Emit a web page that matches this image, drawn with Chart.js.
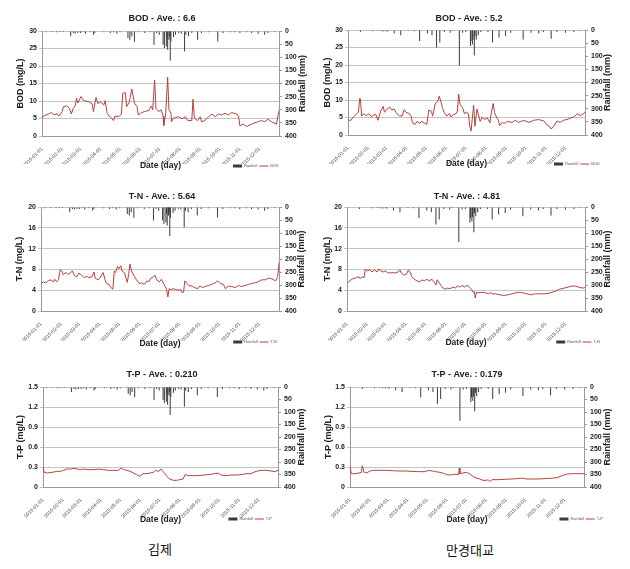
<!DOCTYPE html>
<html>
<head>
<meta charset="utf-8">
<script src="https://cdn.jsdelivr.net/npm/chart.js@4.4.0/dist/chart.umd.min.js"></script>
<style>
  body { margin: 0; background: #fff; }
  #wrap { position: relative; width: 630px; height: 569px; overflow: hidden; }
  #wrap canvas { position: absolute; }
  .site { position: absolute; font-family: "Noto Sans CJK KR", sans-serif; font-size: 13px; color: #111; transform: translateX(-50%); }
</style>
</head>
<body>
<div id="wrap">
  <canvas id="c1" width="315" height="180" style="left:0;top:0"></canvas>
  <canvas id="c2" width="315" height="180" style="left:315px;top:0"></canvas>
  <canvas id="c3" width="315" height="180" style="left:0;top:177px"></canvas>
  <canvas id="c4" width="315" height="180" style="left:315px;top:177px"></canvas>
  <canvas id="c5" width="315" height="180" style="left:0;top:356px"></canvas>
  <canvas id="c6" width="315" height="180" style="left:315px;top:356px"></canvas>
  <div class="site" style="left:160px;top:539px">김제</div>
  <div class="site" style="left:470px;top:540px">만경대교</div>
</div>
<script>
// x axis: day of year 2015 (0 = Jan 1)
const monthStarts = [0, 31, 59, 90, 120, 151, 181, 212, 243, 273, 304, 334];
const monthLabels = ['2015-01-01', '2015-02-01', '2015-03-01', '2015-04-01', '2015-05-01', '2015-06-01',
  '2015-07-01', '2015-08-01', '2015-09-01', '2015-10-01', '2015-11-01', '2015-12-01'];

// rainfall (mm), 김제 column
const rainGimjeDay = [6, 15, 23, 28, 33, 44, 48, 51, 55, 59, 63, 67, 74, 79, 81, 95, 105, 110, 115, 120,
  132, 135, 138, 142, 148, 158, 166, 172, 176, 180, 186, 188, 191, 192, 193, 195, 196, 197, 198, 202,
  205, 210, 214, 219, 221, 225, 230, 239, 245, 256, 270, 278, 289, 296, 304, 314, 322, 332, 342, 347, 358];
const rainGimjeMm = [5, 4, 5, 4, 4, 20, 8, 10, 8, 8, 5, 10, 5, 14, 8, 5, 8, 5, 10, 5,
  27, 33, 20, 41, 5, 8, 5, 52, 8, 14, 52, 65, 59, 27, 71, 33, 20, 112, 40, 23,
  14, 8, 10, 78, 14, 20, 8, 33, 8, 5, 40, 8, 5, 5, 8, 5, 8, 10, 14, 8, 5];

// rainfall (mm), 만경대교 column
const rainMgDay = [19, 38, 46, 51, 55, 59, 61, 71, 81, 93, 102, 110, 122, 129, 136, 141, 148, 157, 161, 171,
  176, 181, 188, 189, 191, 192, 194, 195, 197, 200, 204, 215, 222, 232, 242, 250, 269, 281, 293, 300,
  312, 321, 334, 347, 357];
const rainMgMm = [8, 5, 4, 5, 6, 5, 6, 13, 20, 4, 5, 42, 13, 20, 67, 48, 8, 10, 4, 135,
  10, 8, 61, 42, 55, 38, 97, 23, 36, 20, 8, 8, 48, 29, 23, 10, 36, 10, 13, 8,
  33, 8, 10, 8, 4];

// BOD (mg/L)
const bodGimjeDay = [0, 2, 10, 15, 18, 23, 26, 31, 33, 38, 42, 45, 48, 51, 53, 55, 60, 64, 72, 77,
  79, 83, 86, 89, 95, 97, 100, 103, 106, 110, 112, 118, 122, 124, 128, 130, 134, 138, 142, 146,
  148, 153, 158, 164, 168, 170, 173, 175, 179, 183, 186, 187, 190, 193, 195, 198, 199, 202, 205, 210,
  215, 220, 224, 230, 232, 234, 239, 243, 245, 250, 256, 261, 266, 271, 276, 281, 286, 291, 299, 302,
  304, 309, 314, 322, 327, 332, 337, 342, 347, 352, 360, 364];
const bodGimjeVal = [5.1, 5.7, 6.3, 6.7, 6.1, 6.3, 5.7, 7.0, 8.4, 8.6, 7.9, 6.3, 7.9, 8.6, 10.8, 9.4, 11.3, 10.1, 9.8, 9.2,
  7.0, 11.0, 9.2, 9.8, 8.9, 10.1, 6.5, 5.7, 5.3, 4.4, 5.7, 5.5, 6.3, 12.2, 12.4, 8.4, 9.6, 13.4, 9.4, 8.4,
  6.0, 6.7, 7.0, 7.3, 8.6, 7.5, 16.0, 7.9, 7.0, 7.5, 5.7, 3.0, 6.5, 16.8, 7.5, 6.5, 4.1, 5.1, 5.3, 5.5,
  4.9, 5.5, 4.4, 4.4, 10.5, 5.1, 4.4, 5.5, 4.1, 4.4, 5.5, 6.3, 5.5, 6.3, 6.0, 6.5, 6.0, 6.7, 6.3, 5.5,
  2.9, 3.4, 2.7, 3.4, 3.8, 4.1, 4.4, 4.1, 4.8, 4.1, 3.4, 7.3];
const bodMgDay = [0, 4, 8, 13, 16, 18, 19, 21, 24, 28, 32, 36, 40, 43, 46, 50, 54, 56, 60, 64,
  67, 71, 75, 79, 83, 86, 89, 94, 97, 99, 103, 106, 110, 113, 117, 121, 124, 128, 130, 134,
  138, 140, 143, 145, 148, 152, 156, 158, 162, 166, 168, 170, 172, 176, 179, 182, 185, 187, 189, 191,
  193, 195, 198, 200, 203, 206, 210, 214, 218, 220, 223, 225, 228, 231, 233, 237, 240, 245, 252, 257,
  262, 270, 278, 285, 293, 301, 305, 309, 312, 316, 321, 326, 331, 339, 347, 352, 357, 361, 364];
const bodMgVal = [4.4, 4.1, 5.1, 6.0, 6.5, 10.5, 10.3, 5.4, 6.1, 5.5, 6.1, 5.2, 5.8, 5.8, 4.2, 6.7, 8.2, 6.5, 7.4, 8.0,
  7.2, 7.4, 6.1, 5.5, 5.4, 7.2, 6.5, 6.1, 5.4, 3.5, 3.0, 3.9, 3.3, 3.9, 3.5, 3.0, 7.1, 6.8, 5.4, 9.0,
  9.6, 11.1, 9.4, 7.8, 6.3, 5.4, 6.1, 5.2, 5.8, 6.1, 6.8, 11.7, 8.8, 7.8, 6.0, 6.6, 6.0, 2.5, 1.1, 4.9,
  8.5, 2.5, 7.4, 6.1, 3.9, 5.1, 4.4, 4.9, 3.5, 6.3, 9.0, 6.5, 5.1, 4.2, 2.7, 3.6, 3.3, 3.9, 3.6, 4.2,
  3.6, 4.2, 3.6, 4.2, 4.4, 4.0, 3.0, 2.5, 1.7, 2.5, 4.0, 3.6, 4.2, 4.6, 5.2, 6.1, 5.5, 6.0, 6.5];

// T-N (mg/L)
const tnGimjeDay = [0, 4, 7, 11, 15, 19, 21, 24, 27, 29, 32, 34, 38, 42, 46, 48, 51, 55, 58, 62,
  66, 70, 73, 78, 81, 83, 87, 90, 93, 95, 98, 100, 104, 107, 110, 112, 114, 117, 119, 122,
  124, 128, 130, 132, 134, 136, 139, 143, 146, 150, 154, 158, 162, 165, 168, 172, 174, 177, 181, 184,
  187, 190, 192, 194, 196, 199, 202, 206, 210, 214, 216, 218, 220, 223, 226, 231, 235, 240, 243, 247,
  251, 256, 261, 266, 270, 274, 279, 282, 287, 292, 297, 302, 307, 312, 317, 322, 327, 332, 338, 343,
  348, 353, 359, 362, 364];
const tnGimjeVal = [5.3, 5.6, 5.4, 5.8, 6.0, 5.6, 6.1, 5.6, 6.1, 7.9, 7.7, 7.0, 7.4, 7.0, 7.5, 7.7, 6.8, 6.6, 7.3, 6.9,
  6.4, 6.7, 6.4, 6.6, 7.5, 6.3, 6.0, 6.3, 7.0, 7.4, 6.0, 5.3, 5.1, 4.5, 4.2, 7.7, 7.4, 8.6, 8.1, 8.7,
  7.7, 7.3, 6.3, 5.5, 7.0, 9.0, 7.5, 6.6, 6.0, 5.3, 5.4, 5.1, 5.8, 5.6, 6.3, 6.6, 6.9, 6.0, 5.6, 6.1,
  5.4, 4.7, 4.2, 2.7, 4.3, 4.1, 4.3, 4.1, 4.0, 4.1, 3.5, 3.6, 5.8, 5.3, 4.9, 4.8, 4.5, 4.3, 4.8, 4.5,
  4.7, 4.9, 5.1, 5.4, 5.8, 5.3, 5.1, 4.3, 4.8, 4.7, 4.5, 4.9, 4.7, 4.9, 5.1, 5.3, 5.4, 5.6, 6.0, 6.0,
  6.3, 6.2, 5.8, 6.6, 9.3];
const tnMgDay = [0, 4, 9, 14, 18, 20, 23, 26, 28, 32, 35, 38, 42, 46, 49, 52, 55, 59, 62, 66,
  70, 74, 78, 81, 83, 87, 91, 94, 97, 99, 103, 107, 111, 115, 118, 122, 126, 130, 133, 136,
  138, 141, 144, 147, 150, 154, 158, 162, 166, 169, 172, 176, 180, 184, 187, 190, 193, 195, 196, 198,
  201, 207, 212, 217, 219, 222, 227, 234, 240, 246, 252, 258, 264, 269, 275, 282, 288, 296, 303, 311,
  319, 325, 332, 338, 344, 349, 354, 360, 364];
const tnMgVal = [5.3, 5.8, 6.2, 6.4, 6.6, 6.2, 6.6, 6.4, 8.0, 7.7, 8.0, 7.5, 7.9, 7.5, 8.1, 7.7, 7.5, 7.7, 7.4, 7.3,
  7.4, 7.3, 7.5, 7.9, 7.3, 6.9, 7.1, 7.9, 7.3, 6.6, 6.1, 5.8, 5.6, 6.0, 5.8, 6.1, 5.8, 6.1, 5.6, 5.0,
  6.0, 5.4, 4.9, 4.4, 4.2, 4.4, 4.3, 4.6, 4.4, 4.9, 4.6, 4.9, 4.6, 5.0, 4.6, 4.2, 3.6, 3.7, 2.5, 3.6,
  3.5, 3.6, 3.5, 3.3, 3.6, 3.3, 3.3, 3.1, 3.0, 3.1, 3.3, 3.5, 3.6, 3.5, 3.3, 3.1, 3.3, 3.3, 3.3, 3.5,
  3.8, 4.2, 4.4, 4.6, 4.8, 4.8, 4.6, 4.4, 4.5];

// T-P (mg/L)
const tpGimjeDay = [0, 2, 7, 14, 22, 27, 32, 37, 43, 48, 53, 58, 63, 71, 78, 86, 94, 102, 109, 117,
  121, 125, 130, 135, 140, 145, 150, 155, 161, 166, 171, 174, 179, 183, 186, 191, 196, 202, 207, 212,
  217, 220, 225, 232, 240, 248, 256, 263, 271, 276, 284, 291, 299, 307, 315, 322, 330, 338, 345, 353,
  359, 364];
const tpGimjeVal = [0.30, 0.22, 0.21, 0.22, 0.235, 0.235, 0.25, 0.27, 0.27, 0.28, 0.27, 0.26, 0.27, 0.26, 0.26, 0.27, 0.26, 0.25, 0.25, 0.25,
  0.285, 0.26, 0.25, 0.235, 0.21, 0.185, 0.16, 0.20, 0.20, 0.21, 0.22, 0.25, 0.235, 0.27, 0.235, 0.17, 0.12, 0.10, 0.10, 0.11,
  0.12, 0.185, 0.17, 0.17, 0.17, 0.18, 0.185, 0.195, 0.21, 0.18, 0.17, 0.18, 0.18, 0.185, 0.20, 0.20, 0.235, 0.25, 0.25, 0.24,
  0.23, 0.25];
const tpMgDay = [0, 2, 7, 14, 18, 19, 22, 26, 30, 35, 45, 55, 66, 76, 86, 96, 107, 117, 122, 128,
  133, 140, 147, 153, 158, 164, 169, 170, 171, 176, 181, 186, 191, 196, 202, 207, 212, 215, 218, 221,
  230, 240, 250, 261, 268, 274, 281, 291, 302, 312, 322, 330, 338, 345, 353, 364];
const tpMgVal = [0.32, 0.20, 0.20, 0.21, 0.22, 0.32, 0.22, 0.21, 0.235, 0.25, 0.25, 0.25, 0.245, 0.24, 0.24, 0.235, 0.23, 0.23, 0.25, 0.24,
  0.23, 0.22, 0.20, 0.18, 0.185, 0.19, 0.19, 0.285, 0.20, 0.21, 0.22, 0.20, 0.16, 0.135, 0.12, 0.10, 0.10, 0.11, 0.08, 0.11,
  0.11, 0.115, 0.12, 0.125, 0.135, 0.12, 0.12, 0.12, 0.125, 0.13, 0.14, 0.17, 0.195, 0.20, 0.20, 0.20];

const FONT = "'Liberation Sans', Arial, sans-serif";
const LEGEND_H = 16;
Chart.defaults.font.family = FONT;

// nudges the title / legend into place and draws the right axis title (reads bottom-up)
const panelTweaks = {
  id: 'panelTweaks',
  afterLayout(chart, args, o) {
    const t = chart.titleBlock;
    const dx = o.titleX - (t.left + t.right) / 2;
    t.left += dx; t.right += dx;
    const lg = chart.legend;
    const dy = o.legendY - (lg.top + 4);
    lg.top += dy; lg.bottom += dy;
    const lx = o.legendRight - lg.right;
    lg.left += lx; lg.right += lx;
  },
  afterDraw(chart, args, o) {
    const ctx = chart.ctx;
    const a = chart.chartArea;
    ctx.save();
    ctx.translate(o.rTitleX, (a.top + a.bottom) / 2);
    ctx.rotate(-Math.PI / 2);
    ctx.font = 'bold 9px ' + FONT;
    ctx.fillStyle = '#222';
    ctx.textAlign = 'center';
    ctx.textBaseline = 'middle';
    ctx.fillText('Rainfall (mm)', 0, 0);
    ctx.restore();
  }
};

function makePanel(id, lay, title, name, yMax, yStep, days, vals, rainDays, rainMm) {
  const H = 180, W = 315;
  return new Chart(document.getElementById(id), {
    data: {
      datasets: [
        { type: 'bar', label: 'Rainfall', yAxisID: 'y2', order: 1,
          data: rainDays.map((d, i) => ({ x: d, y: rainMm[i] })),
          backgroundColor: '#3a3a3a', barThickness: 1, inflateAmount: 0, pointStyle: 'rect' },
        { type: 'line', label: name, yAxisID: 'y', order: 0,
          data: days.map((d, i) => ({ x: d, y: vals[i] })),
          borderColor: '#b8403c', borderWidth: 1, pointRadius: 0, pointStyle: 'line' }
      ]
    },
    options: {
      responsive: false,
      animation: false,
      layout: { padding: 0 },
      plugins: {
        title: { display: true, text: title, color: '#222',
          font: { size: 9, weight: 'bold' },
          padding: { top: lay.titleY - 5.4, bottom: lay.top - lay.titleY - 5.4 } },
        legend: { position: 'bottom', align: 'end',
          labels: { usePointStyle: true, pointStyleWidth: 9, boxHeight: 3, padding: 2,
            font: { size: 4 }, color: '#555',
            sort: (a, b) => a.datasetIndex - b.datasetIndex } },
        tooltip: { enabled: false },
        panelTweaks: lay
      },
      scales: {
        x: {
          type: 'linear', min: 0, max: 364, offset: false,
          afterBuildTicks: s => { s.ticks = monthStarts.map(v => ({ value: v })); },
          ticks: { autoSkip: false, minRotation: 45, maxRotation: 45, padding: 2,
            font: { size: 5 }, color: '#444', callback: (v, i) => monthLabels[i] },
          grid: { display: false, offset: false },
          border: { color: '#999' },
          title: { display: true, text: 'Date (day)', color: '#222',
            font: { size: 8.5, weight: 'bold' },
            padding: { top: 0, bottom: H - LEGEND_H - lay.xTitleY - 5.1 } },
          afterFit: s => { s.height = s.chart.height - s.chart.legend.height - lay.bottom; }
        },
        y: {
          position: 'left', min: 0, max: yMax,
          ticks: { stepSize: yStep, autoSkip: false, padding: 2, color: '#222', font: { size: 7, weight: 'bold' } },
          grid: { color: '#c4c4c4', tickLength: 3 },
          border: { color: '#999' },
          title: { display: true, text: name + ' (mg/L)', color: '#222',
            font: { size: 9, weight: 'bold' }, padding: { top: lay.yTitleX - 5.4, bottom: 0 } },
          afterFit: s => { s.width = lay.left; }
        },
        y2: {
          position: 'right', reverse: true, min: 0, max: 400,
          ticks: { stepSize: 50, autoSkip: false, padding: 3, color: '#222', font: { size: 7, weight: 'bold' } },
          grid: { drawOnChartArea: false, tickLength: 3, color: '#999' },
          border: { color: '#999' },
          afterFit: s => { s.width = W - lay.right; }
        }
      }
    },
    plugins: [panelTweaks]
  });
}

// plot-area placement inside each 315x180 canvas
const layouts = {
  c1: { left: 42, right: 279, top: 31, bottom: 136, titleX: 162, titleY: 19, yTitleX: 21, rTitleX: 303, xTitleY: 166, legendY: 166, legendRight: 281 },
  c2: { left: 33, right: 270, top: 30, bottom: 135, titleX: 154, titleY: 19, yTitleX: 13, rTitleX: 293, xTitleY: 164, legendY: 164, legendRight: 287 },
  c3: { left: 41, right: 279, top: 30, bottom: 134, titleX: 162, titleY: 20, yTitleX: 20, rTitleX: 302, xTitleY: 167, legendY: 165, legendRight: 279 },
  c4: { left: 32, right: 270, top: 30, bottom: 134, titleX: 152, titleY: 20, yTitleX: 13, rTitleX: 293, xTitleY: 166, legendY: 165, legendRight: 287 },
  c5: { left: 43, right: 278, top: 31, bottom: 131, titleX: 162, titleY: 19, yTitleX: 21, rTitleX: 302, xTitleY: 164, legendY: 163, legendRight: 274 },
  c6: { left: 35, right: 269, top: 31, bottom: 131, titleX: 152, titleY: 19, yTitleX: 14, rTitleX: 293, xTitleY: 164, legendY: 163, legendRight: 290 }
};

makePanel('c1', layouts.c1, 'BOD - Ave. : 6.6', 'BOD', 30, 5, bodGimjeDay, bodGimjeVal, rainGimjeDay, rainGimjeMm);
makePanel('c2', layouts.c2, 'BOD - Ave. : 5.2', 'BOD', 30, 5, bodMgDay, bodMgVal, rainMgDay, rainMgMm);
makePanel('c3', layouts.c3, 'T-N - Ave. : 5.64', 'T-N', 20, 4, tnGimjeDay, tnGimjeVal, rainGimjeDay, rainGimjeMm);
makePanel('c4', layouts.c4, 'T-N - Ave. : 4.81', 'T-N', 20, 4, tnMgDay, tnMgVal, rainMgDay, rainMgMm);
makePanel('c5', layouts.c5, 'T-P - Ave. : 0.210', 'T-P', 1.5, 0.3, tpGimjeDay, tpGimjeVal, rainGimjeDay, rainGimjeMm);
makePanel('c6', layouts.c6, 'T-P - Ave. : 0.179', 'T-P', 1.5, 0.3, tpMgDay, tpMgVal, rainMgDay, rainMgMm);
</script>
</body>
</html>
